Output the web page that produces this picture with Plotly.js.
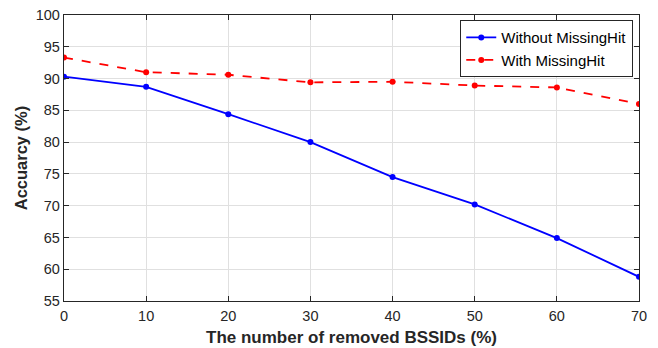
<!DOCTYPE html>
<html>
<head>
<meta charset="utf-8">
<script src="https://cdn.plot.ly/plotly-3.0.1.min.js"></script>
<style>html,body{margin:0;padding:0;background:#fff;}#chart{width:658px;height:348px;}</style>
</head>
<body>
<div id="chart"></div>
<script>
const removed = [0, 10, 20, 30, 40, 50, 60, 70];
const withoutMissingHit = [90.3, 88.7, 84.4, 80.0, 74.5, 70.2, 64.9, 58.8];
const withMissingHit = [93.3, 91.0, 90.6, 89.4, 89.5, 88.9, 88.6, 86.0];
const seriesNames = ["Without MissingHit", "With MissingHit"];

const traces = [
  {x: removed, y: withoutMissingHit, name: seriesNames[0], mode: "lines+markers",
   line: {color: "#0000ff", width: 1.8}, marker: {color: "#0000ff", size: 6}},
  {x: removed, y: withMissingHit, name: seriesNames[1], mode: "lines+markers",
   line: {color: "#ff0000", width: 1.8, dash: "dash"}, marker: {color: "#ff0000", size: 6}}
];

const FONT = "Liberation Sans, Arial, sans-serif";
const axisCommon = {
  showline: true, linecolor: "#262626", linewidth: 1.2, mirror: "allticks",
  ticks: "inside", ticklen: 5, tickcolor: "#262626",
  showgrid: true, gridcolor: "#e0e0e0", gridwidth: 1, zeroline: false,
  tickfont: {family: FONT, size: 14.5, color: "#262626"}
};

const layout = {
  width: 658, height: 348,
  margin: {l: 64, r: 19, t: 15, b: 47},
  paper_bgcolor: "#fff", plot_bgcolor: "#fff",
  showlegend: true,
  legend: {x: 0.99, y: 0.982, xanchor: "right", yanchor: "top",
    bgcolor: "#fff", bordercolor: "#262626", borderwidth: 1,
    font: {family: FONT, size: 15, color: "#000"},
    tracegroupgap: 0, itemwidth: 30},
  xaxis: Object.assign({}, axisCommon, {range: [0, 70], dtick: 10, tick0: 0, ticklabelstandoff: 1,
    title: {text: "The number of removed BSSIDs (%)", standoff: 8,
      font: {family: FONT, size: 17, color: "#262626", weight: "bold"}}}),
  yaxis: Object.assign({}, axisCommon, {range: [55, 100], dtick: 5, tick0: 55,
    title: {text: "Accuarcy (%)", standoff: 4,
      font: {family: FONT, size: 16.5, color: "#262626", weight: "bold"}}})
};

Plotly.newPlot("chart", traces, layout, {displayModeBar: false, staticPlot: true});
</script>
</body>
</html>
